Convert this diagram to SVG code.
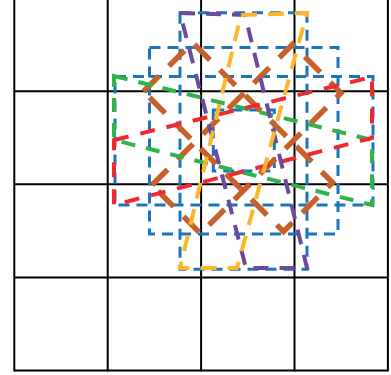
<svg xmlns="http://www.w3.org/2000/svg" width="391" height="375" viewBox="0 0 391 375">
<style>
.grid{stroke:#000;stroke-width:2;fill:none}
.s{fill:none;stroke-linejoin:miter}
.blue{stroke:#1b75bc;stroke-width:3;stroke-dasharray:11 7}
.orange{stroke:#c8602a;stroke-width:5.5;stroke-dasharray:22 14}
.green{stroke:#2fb34a;stroke-width:4;stroke-dasharray:14 11}
.red{stroke:#ee2a2f;stroke-width:4;stroke-dasharray:15 12}
.purple{stroke:#6a4a9f;stroke-width:4;stroke-dasharray:15 11}
.yellow{stroke:#fbb62b;stroke-width:4;stroke-dasharray:16 11}
</style>
<rect width="391" height="375" fill="#fff"/>
<g id="grid" class="grid">
<path d="M14.3 -2V371.5M107.7 -2V371.5M201.1 -2V371.5M294.5 -2V371.5M387.9 -2V371.5"/>
<path d="M14.3 91.3H387.9M14.3 184.3H387.9M14.3 277.4H387.9M14.3 370.5H387.9"/>
</g>
<g id="blue">
<rect class="s blue" x="115" y="76.5" width="258" height="128.5"/>
<rect class="s blue" x="149.5" y="47.5" width="188.5" height="186.5"/>
<rect class="s blue" x="180" y="12.7" width="127" height="256.5"/>
<rect class="s blue" x="213.3" y="110" width="61" height="61"/>
</g>
<g id="orange">
<polygon class="s orange" points="143.5,91.5 192.5,42.5 332.5,182.5 283.5,231.5"/>
<polygon class="s orange" points="152,185 292.5,44.5 341,93 200.5,233.5"/>
</g>
<g id="green">
<polygon class="s green" points="114,76 372,140 372,205 114,140"/>
</g>
<g id="red">
<polygon class="s red" points="114,140 372,77 372,138 114,205"/>
</g>
<g id="purple">
<polygon class="s purple" points="180,13 245,15 307,268 246,268"/>
</g>
<g id="yellow">
<polygon class="s yellow" points="241,15 307,13 237,268 180,268"/>
</g>
</svg>
